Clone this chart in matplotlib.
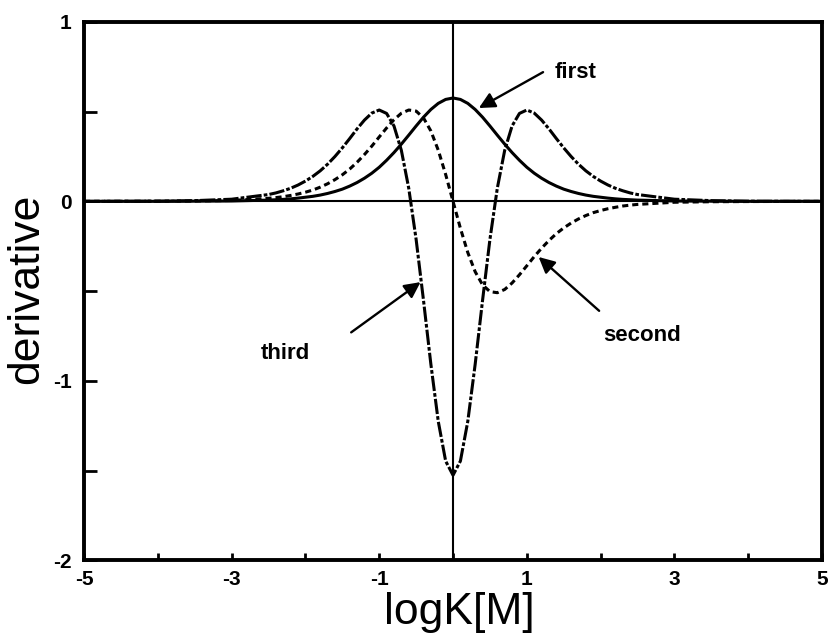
import matplotlib.pyplot as plt
from matplotlib.ticker import MultipleLocator

plt.rcParams['font.family'] = 'Liberation Sans'
plt.rcParams['axes.unicode_minus'] = False

# logK[M] sample positions
log_km = [-5.0, -4.0, -3.5, -3.0,
          -2.5, -2.4, -2.3, -2.2, -2.1, -2.0, -1.9, -1.8, -1.7, -1.6,
          -1.5, -1.4, -1.3, -1.2, -1.1, -1.0, -0.9, -0.8, -0.7, -0.6,
          -0.5, -0.4, -0.3, -0.2, -0.1, 0.0, 0.1, 0.2, 0.3, 0.4,
          0.5, 0.6, 0.7, 0.8, 0.9, 1.0, 1.1, 1.2, 1.3, 1.4,
          1.5, 1.6, 1.7, 1.8, 1.9, 2.0, 2.1, 2.2, 2.3, 2.4,
          2.5, 3.0, 3.5, 4.0, 5.0]

first = [0.000, 0.000, 0.001, 0.002,
         0.007, 0.009, 0.011, 0.014, 0.018, 0.023, 0.028, 0.035, 0.044, 0.055,
         0.068, 0.085, 0.105, 0.129, 0.157, 0.190, 0.229, 0.272, 0.319, 0.369,
         0.420, 0.469, 0.512, 0.546, 0.568, 0.576, 0.568, 0.546, 0.512, 0.469,
         0.420, 0.369, 0.319, 0.272, 0.229, 0.190, 0.157, 0.129, 0.105, 0.085,
         0.068, 0.055, 0.044, 0.035, 0.028, 0.023, 0.018, 0.014, 0.011, 0.009,
         0.007, 0.002, 0.001, 0.000, 0.000]

second = [0.000, 0.001, 0.002, 0.005,
          0.017, 0.021, 0.026, 0.033, 0.041, 0.051, 0.063, 0.079, 0.098, 0.121,
          0.148, 0.180, 0.218, 0.261, 0.308, 0.359, 0.409, 0.455, 0.491, 0.509,
          0.503, 0.465, 0.392, 0.285, 0.150, 0.000, -0.150, -0.285, -0.392, -0.465,
          -0.503, -0.509, -0.491, -0.455, -0.409, -0.359, -0.308, -0.261, -0.218, -0.180,
          -0.148, -0.121, -0.098, -0.079, -0.063, -0.051, -0.041, -0.033, -0.026, -0.021,
          -0.017, -0.005, -0.002, -0.001, 0.000]

third = [0.000, 0.001, 0.004, 0.012,
         0.038, 0.047, 0.059, 0.073, 0.091, 0.113, 0.139, 0.170, 0.207, 0.250,
         0.298, 0.350, 0.404, 0.453, 0.492, 0.509, 0.490, 0.420, 0.284, 0.073,
         -0.212, -0.552, -0.908, -1.226, -1.447, -1.526, -1.447, -1.226, -0.908, -0.552,
         -0.212, 0.073, 0.284, 0.420, 0.490, 0.509, 0.492, 0.453, 0.404, 0.350,
         0.298, 0.250, 0.207, 0.170, 0.139, 0.113, 0.091, 0.073, 0.059, 0.047,
         0.038, 0.012, 0.004, 0.001, 0.000]

fig = plt.figure(figsize=(8.32, 6.44), dpi=100)
ax = fig.add_axes([0.101, 0.130, 0.887, 0.836])

# reference lines through the origin
ax.axhline(0, color='black', lw=1.5, zorder=1)
ax.axvline(0, color='black', lw=1.5, zorder=1)

ax.plot(log_km, first, color='black', lw=2.2, solid_capstyle='round')
ax.plot(log_km, second, color='black', lw=2.2, linestyle=(0, (2.0, 1.3)))
ax.plot(log_km, third, color='black', lw=2.2, linestyle=(0, (5, 0.7, 1.2, 0.7)))

ax.set_xlim(-5, 5)
ax.set_ylim(-2, 1)
ax.set_xticks([-5, -3, -1, 1, 3, 5])
ax.xaxis.set_minor_locator(MultipleLocator(1))
ax.set_yticks([-2, -1, 0, 1])
ax.yaxis.set_minor_locator(MultipleLocator(0.5))

for s in ax.spines.values():
    s.set_linewidth(2.8)

ax.tick_params(axis='both', which='both', direction='in', width=2, colors='black')
ax.tick_params(axis='x', which='both', length=5, pad=7, labelsize=15)
ax.tick_params(axis='y', which='both', length=9, pad=9, labelsize=15)
for lbl in ax.get_xticklabels() + ax.get_yticklabels():
    lbl.set_fontweight('bold')

ax.set_xlabel('logK[M]', fontsize=32)
ax.set_ylabel('derivative', fontsize=32)
ax.xaxis.set_label_coords(0.508, -0.058)
ax.yaxis.set_label_coords(-0.05, 0.505)

arrow = dict(arrowstyle='-|>', mutation_scale=24, lw=1.7, color='black',
             shrinkA=0, shrinkB=0)
ax.annotate('', xy=(0.35, 0.52), xytext=(1.22, 0.72), arrowprops=arrow)
ax.annotate('', xy=(1.16, -0.31), xytext=(1.98, -0.61), arrowprops=arrow)
ax.annotate('', xy=(-0.44, -0.45), xytext=(-1.38, -0.73), arrowprops=arrow)

ax.text(1.37, 0.72, 'first', fontsize=16, fontweight='bold', va='center')
ax.text(2.04, -0.75, 'second', fontsize=16, fontweight='bold', va='center')
ax.text(-2.61, -0.85, 'third', fontsize=16, fontweight='bold', va='center')

plt.savefig('out.png', dpi=100)
